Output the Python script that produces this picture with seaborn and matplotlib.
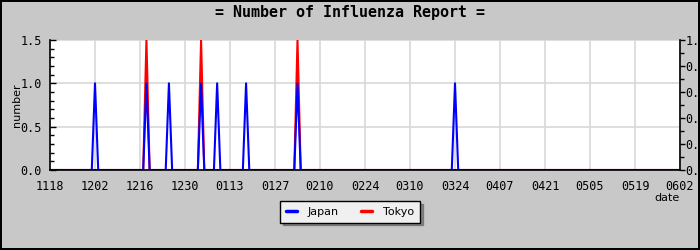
import numpy as np
import pandas as pd
import matplotlib
matplotlib.use("Agg")
import matplotlib.pyplot as plt
import matplotlib.dates as mdates
from matplotlib.ticker import MultipleLocator, FormatStrFormatter
from matplotlib.lines import Line2D
import seaborn as sns

# ---- data ----
start_date = "2008-11-18"
end_date = "2009-06-02"
japan_dates = ["2008-12-02", "2008-12-18", "2008-12-25", "2009-01-04",
               "2009-01-09", "2009-01-18", "2009-02-03", "2009-03-24"]
japan_values = [1.0, 1.0, 1.0, 1.0, 1.0, 1.0, 1.0, 1.0]
tokyo_dates = ["2008-12-18", "2009-01-04", "2009-02-03"]
tokyo_values = [1.5, 1.5, 1.5]
series_names = ["Japan", "Tokyo"]
series_colors = ["#0000ff", "#ff0000"]
x_tick_labels = ["1118", "1202", "1216", "1230", "0113", "0127", "0210", "0224",
                 "0310", "0324", "0407", "0421", "0505", "0519", "0602"]

days = pd.date_range(start_date, end_date, freq="D")
def daily(dates, values):
    s = pd.Series(0.0, index=days)
    s[pd.to_datetime(dates)] = values
    return s

frames = []
for name, d, v in [("Tokyo", tokyo_dates, tokyo_values), ("Japan", japan_dates, japan_values)]:
    s = daily(d, v)
    frames.append(pd.DataFrame({"date": s.index, "number": s.values, "series": name}))
df = pd.concat(frames, ignore_index=True)

# ---- figure ----
sns.set_style("white")
plt.rcParams["font.family"] = ["DejaVu Sans Mono"]
for k in ["text.color", "axes.labelcolor", "xtick.color", "ytick.color"]:
    plt.rcParams[k] = "black"
fig = plt.figure(figsize=(7, 2.5), dpi=100, facecolor="#c8c8c8",
                 edgecolor="black", linewidth=1.5)
ax = fig.add_axes([50/700, 1-170/250, 630/700, 130/250])
ax.set_facecolor("white")

palette = dict(zip(series_names, series_colors))
sns.lineplot(data=df, x="date", y="number", hue="series", palette=palette,
             hue_order=["Tokyo", "Japan"], linewidth=1.5, ax=ax, legend=False)

ax.set_xlim(pd.Timestamp(start_date), pd.Timestamp(end_date))
ax.set_ylim(0, 1.5)
tick_pos = pd.date_range(start_date, end_date, freq="14D")
ax.set_xticks(tick_pos)
ax.set_xticklabels(x_tick_labels)
ax.yaxis.set_major_locator(MultipleLocator(0.5))
ax.yaxis.set_minor_locator(MultipleLocator(0.1))
ax.yaxis.set_major_formatter(FormatStrFormatter("%.1f"))
ax.grid(True, which="major", color="#d8d8d8", linewidth=1.2)
ax.set_axisbelow(True)
ax.tick_params(axis="x", direction="in", length=5, width=1.2, color="black",
               labelsize=8.5, pad=7)
ax.tick_params(axis="y", which="major", direction="in", length=4, width=1,
               labelsize=8.5, pad=6)
ax.tick_params(axis="y", which="minor", direction="in", length=3, width=1)
for sp in ["left", "bottom"]:
    ax.spines[sp].set_color("black")
    ax.spines[sp].set_linewidth(1.2)
ax.spines["top"].set_visible(False)
ax.spines["right"].set_visible(False)

ax.set_ylabel("number", fontsize=8, family="DejaVu Sans")
ax.yaxis.set_label_coords(-0.044, 0.5)
ax.set_xlabel("date", fontsize=8, family="DejaVu Sans")
ax.xaxis.set_label_coords(0.979, -0.175)

ax2 = ax.twinx()
ax2.set_ylim(0, 1.0)
ax2.yaxis.set_major_locator(MultipleLocator(0.2))
ax2.yaxis.set_minor_locator(MultipleLocator(0.1))
ax2.yaxis.set_major_formatter(FormatStrFormatter("%.1f"))
ax2.tick_params(axis="y", which="major", direction="out", length=3.5, width=1,
                labelsize=8.5, pad=0.3)
ax2.tick_params(axis="y", which="minor", direction="out", length=3, width=1)
for sp in ["top", "left", "bottom"]:
    ax2.spines[sp].set_visible(False)
ax2.spines["right"].set_color("black")
ax2.spines["right"].set_linewidth(1.2)
ax2.grid(False)

fig.text(0.5, 1-13/250, "= Number of Influenza Report =", ha="center", va="center",
         fontsize=10.8, fontweight="bold", family="DejaVu Sans Mono", color="black")

handles = [Line2D([], [], color=c, linewidth=2.5) for c in series_colors]
leg = fig.legend(handles, series_names, loc="center", bbox_to_anchor=(0.5, 1-212/250),
                 ncol=2, frameon=True, fancybox=False, shadow=True,
                 prop={"family": "DejaVu Sans", "size": 8}, handlelength=1.0,
                 columnspacing=2.0, borderpad=0.5, handletextpad=1.0)
leg.get_frame().set_facecolor("#f0f0f0")
leg.get_frame().set_edgecolor("black")
leg.get_frame().set_alpha(1)

fig.savefig("out.png", dpi=100, facecolor=fig.get_facecolor(), edgecolor="black")
